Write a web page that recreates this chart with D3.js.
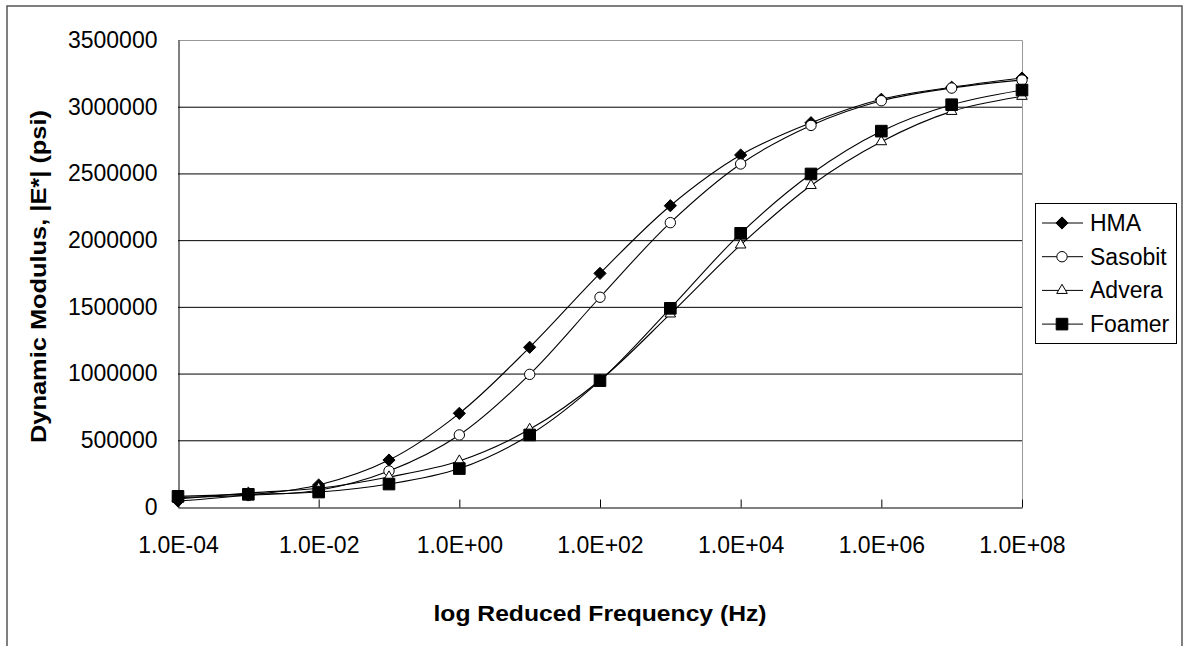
<!DOCTYPE html>
<html>
<head>
<meta charset="utf-8">
<script src="https://cdn.jsdelivr.net/npm/d3@7"></script>
<style>
  body { margin: 0; background: #fff; }
  text { font-family: "Liberation Sans", Arial, sans-serif; fill: #000; }
</style>
</head>
<body>
<svg id="chart" width="1185" height="646"></svg>
<script>
// reduced frequency exponents (Hz = 10^n)
let exponents = [-4, -3, -2, -1, 0, 1, 2, 3, 4, 5, 6, 7, 8]
let tickExponents = [-4, -2, 0, 2, 4, 6, 8]
let yTicks = [0, 500000, 1000000, 1500000, 2000000, 2500000, 3000000, 3500000]

let hma = [45000, 90000, 165000, 352000, 702000, 1197000, 1751000, 2258000, 2638000, 2880000, 3056000, 3146000, 3215000]
let sasobit = [70000, 88000, 125000, 270000, 540000, 994000, 1572000, 2131000, 2571000, 2860000, 3045000, 3140000, 3200000]
let advera = [60000, 105000, 140000, 225000, 345000, 582000, 950000, 1447000, 1964000, 2410000, 2738000, 2965000, 3078000]
let foamer = [80000, 95000, 112000, 172000, 288000, 540000, 947000, 1489000, 2051000, 2496000, 2817000, 3015000, 3125000]

let seriesNames = ["HMA", "Sasobit", "Advera", "Foamer"]
let seriesValues = [hma, sasobit, advera, foamer]
let seriesMarkers = ["diamond", "circle", "triangle", "square"]

let svg = d3.select("#chart")

// outer frame
svg.append("rect")
    .attr("x", 7).attr("y", 6)
    .attr("width", 1175).attr("height", 660)
    .attr("fill", "none").attr("stroke", "#555").attr("stroke-width", 1.5)

let plotLeft = 178, plotRight = 1022, plotTop = 40, plotBottom = 507

let x = d3.scaleLog().domain([1e-4, 1e8]).range([plotLeft, plotRight])
let y = d3.scaleLinear().domain([0, 3500000]).range([plotBottom, plotTop])

// plot area border (gray top and right)
svg.append("path")
    .attr("d", `M${plotLeft},${plotTop + 0.5}H${plotRight + 0.5}V${plotBottom}`)
    .attr("fill", "none").attr("stroke", "#999").attr("stroke-width", 1)

// gridlines
svg.append("g")
    .selectAll("line")
    .data(yTicks.slice(1, -1))
    .enter()
    .append("line")
    .attr("x1", plotLeft).attr("x2", plotRight)
    .attr("y1", d => y(d) + 0.5).attr("y2", d => y(d) + 0.5)
    .attr("stroke", "#000").attr("stroke-width", 1)

function sciLabel(n) {
    let a = Math.abs(n)
    return "1.0E" + (n < 0 ? "-" : "+") + (a < 10 ? "0" : "") + a
}

// x axis
let xAxis = svg.append("g")
    .attr("transform", "translate(0," + (plotBottom + 0.5) + ")")
    .call(d3.axisBottom(x)
        .tickValues(tickExponents.map(n => Math.pow(10, n)))
        .tickFormat(d => sciLabel(Math.round(Math.log10(d))))
        .tickSizeInner(-8)
        .tickSizeOuter(0)
        .tickPadding(29))
xAxis.select(".domain").attr("stroke", "#000")
xAxis.selectAll(".tick line").attr("stroke", "#000")
xAxis.selectAll("text").style("font-size", "23px").attr("fill", "#000")

// y axis
let yAxis = svg.append("g")
    .attr("transform", "translate(" + (plotLeft + 0.5) + ",0)")
    .call(d3.axisLeft(y)
        .tickValues(yTicks)
        .tickFormat(d3.format("d"))
        .tickSize(0)
        .tickPadding(21))
yAxis.select(".domain").attr("stroke", "#000")
yAxis.selectAll("text").style("font-size", "23px").attr("fill", "#000")

// axis titles (stretched a bit like the original renderer)
svg.append("text")
    .attr("x", (plotLeft + plotRight) / 2).attr("y", 621)
    .attr("text-anchor", "middle")
    .attr("textLength", 333).attr("lengthAdjust", "spacingAndGlyphs")
    .style("font-size", "22px").style("font-weight", "bold")
    .text("log Reduced Frequency (Hz)")

svg.append("text")
    .attr("transform", "translate(46," + ((plotTop + plotBottom) / 2 + 3) + ") rotate(-90)")
    .attr("text-anchor", "middle")
    .attr("textLength", 333).attr("lengthAdjust", "spacingAndGlyphs")
    .style("font-size", "22px").style("font-weight", "bold")
    .text("Dynamic Modulus, |E*| (psi)")

// marker shapes
let symbolFor = {
    diamond: { type: d3.symbolDiamond2, size: 95, fill: "#000" },
    circle: { type: d3.symbolCircle, size: 85, fill: "#fff" },
    triangle: { type: d3.symbolTriangle2, size: 80, fill: "#fff" },
    square: { type: d3.symbolSquare, size: 135, fill: "#000" }
}

function drawMarker(g, kind) {
    let s = symbolFor[kind]
    return g.append("path")
        .attr("d", d3.symbol().type(s.type).size(s.size)())
        .attr("fill", s.fill)
        .attr("stroke", "#000")
        .attr("stroke-width", 1)
}

let line = d3.line()
    .x(d => x(Math.pow(10, d.e)))
    .y(d => y(d.v))
    .curve(d3.curveCatmullRom)

seriesValues.forEach(function (vals, i) {
    let pts = exponents.map((e, j) => ({ e: e, v: vals[j] }))
    svg.append("path")
        .datum(pts)
        .attr("d", line)
        .attr("fill", "none")
        .attr("stroke", "#000")
        .attr("stroke-width", 1.1)
    pts.forEach(function (p) {
        let g = svg.append("g")
            .attr("transform", "translate(" + x(Math.pow(10, p.e)) + "," + y(p.v) + ")")
        drawMarker(g, seriesMarkers[i])
    })
})

// legend
svg.append("rect")
    .attr("x", 1035.5).attr("y", 203.5)
    .attr("width", 141).attr("height", 140)
    .attr("fill", "#fff").attr("stroke", "#000").attr("stroke-width", 1)

seriesNames.forEach(function (name, i) {
    let cy = 223 + i * 33.7
    let g = svg.append("g").attr("transform", "translate(0," + cy + ")")
    g.append("line")
        .attr("x1", 1042).attr("x2", 1083)
        .attr("y1", 0).attr("y2", 0)
        .attr("stroke", "#000").attr("stroke-width", 1)
    drawMarker(g.append("g").attr("transform", "translate(1062,0)"), seriesMarkers[i])
    g.append("text")
        .attr("x", 1090).attr("y", 8)
        .style("font-size", "23px")
        .text(name)
})
</script>
</body>
</html>
